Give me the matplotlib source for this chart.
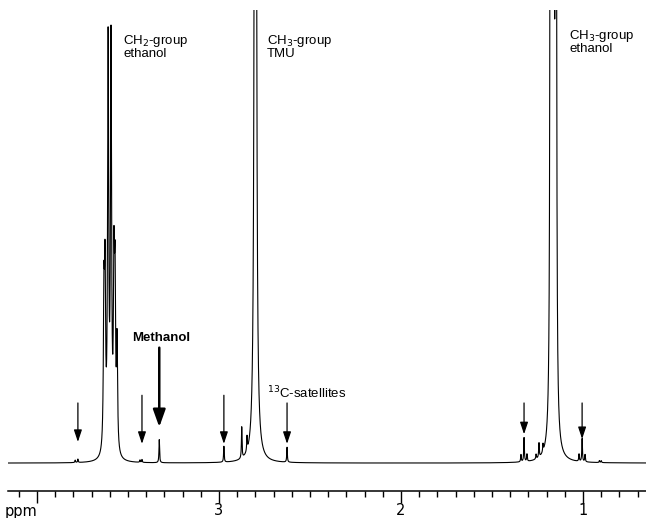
import numpy as np
import matplotlib
matplotlib.use("Agg")
import matplotlib.pyplot as plt

# Peak table (position in ppm, height, half width in ppm)
peak_ppm = [3.790, 3.775, 3.632, 3.626, 3.609, 3.593, 3.577, 3.571, 3.560,
            3.434, 3.423, 3.328,
            2.973, 2.875, 2.846, 2.800, 2.626,
            1.341, 1.324, 1.308, 1.258, 1.242, 1.220,
            1.178, 1.164, 1.149, 1.022, 1.005, 0.989, 0.910, 0.900]
peak_height = [0.5, 0.7, 30, 34, 84, 84, 35, 32, 22,
               0.5, 0.6, 4.8,
               3.3, 6.5, 3.0, 2600, 3.1,
               1.5, 5.0, 1.5, 1.0, 3.0, 1.6,
               800, 1600, 800, 1.5, 4.8, 1.5, 0.4, 0.4]
peak_width = [0.002, 0.002, 0.0035, 0.0035, 0.0035, 0.0035, 0.0035, 0.0035, 0.0035,
              0.002, 0.002, 0.002,
              0.002, 0.002, 0.002, 0.0015, 0.002,
              0.002, 0.002, 0.002, 0.002, 0.002, 0.002,
              0.0015, 0.0015, 0.0015, 0.002, 0.002, 0.002, 0.002, 0.002]

# Group labels
labels = ["CH$_2$-group\nethanol", "CH$_3$-group\nTMU", "CH$_3$-group\nethanol"]
label_ppm = [3.527, 2.736, 1.077]
label_top = [89.5, 89.5, 90.5]

# Arrows marking satellites: ppm, tail, tip
arrow_ppm = [3.775, 3.423, 2.973, 2.626, 1.324, 1.005]
arrow_tail = [12.5, 14.1, 14.1, 12.5, 12.5, 12.5]
arrow_tip = [4.4, 4.0, 4.0, 4.0, 6.0, 5.0]

major_ticks = [4, 3, 2, 1]
major_labels = ["", "3", "2", "1"]

# Build the trace from the peak table (Lorentzian lines)
x = np.linspace(4.2, 0.6, 24000)
y = np.zeros_like(x)
for p, h, w in zip(peak_ppm, peak_height, peak_width):
    y += h * w**2 / ((x - p)**2 + w**2)

fig = plt.figure(figsize=(6.46, 5.18), dpi=100)
ax = fig.add_axes([8/646, 1 - 491/518, 1 - 8/646, 481/518])

ax.plot(x, y, color="black", lw=0.8)
ax.set_xlim(4.159, 0.654)
ax.set_ylim(-5.8, 94.2)

# Only the bottom axis
for s in ["top", "left", "right"]:
    ax.spines[s].set_visible(False)
ax.spines["bottom"].set_linewidth(1.1)
ax.set_yticks([])
ax.set_xticks(major_ticks)
ax.set_xticklabels(major_labels, fontsize=10.5, family="DejaVu Sans")
ax.set_xticks(np.arange(0.7, 4.15, 0.1), minor=True)
ax.tick_params(axis="x", which="major", length=8.5, width=1, pad=0)
ax.tick_params(axis="x", which="minor", length=4, width=1)
ax.text(4.0, -8.6, "ppm", ha="right", va="top", fontsize=10.5, family="DejaVu Sans")

for t, p, yt in zip(labels, label_ppm, label_top):
    ax.text(p, yt, t, ha="left", va="top", fontsize=9.5, family="Liberation Sans",
            linespacing=0.95)

ax.text(3.319, 26.0, "Methanol", ha="center", va="center", fontsize=9.5,
        fontweight="bold", family="Liberation Sans")
ax.text(2.736, 14.6, "$^{13}$C-satellites", ha="left", va="center", fontsize=9.5,
        family="Liberation Sans")

# Arrows
for p, yt, yp in zip(arrow_ppm, arrow_tail, arrow_tip):
    ax.annotate("", xy=(p, yp), xytext=(p, yt),
                arrowprops=dict(arrowstyle="-|>,head_length=0.6,head_width=0.2",
                                color="black", lw=0.9, mutation_scale=12,
                                shrinkA=0, shrinkB=0))
ax.annotate("", xy=(3.328, 7.5), xytext=(3.328, 24.0),
            arrowprops=dict(arrowstyle="-|>,head_length=0.7,head_width=0.25",
                            color="black", lw=1.8, mutation_scale=15,
                            shrinkA=0, shrinkB=0))

fig.savefig("out.png", dpi=100)
